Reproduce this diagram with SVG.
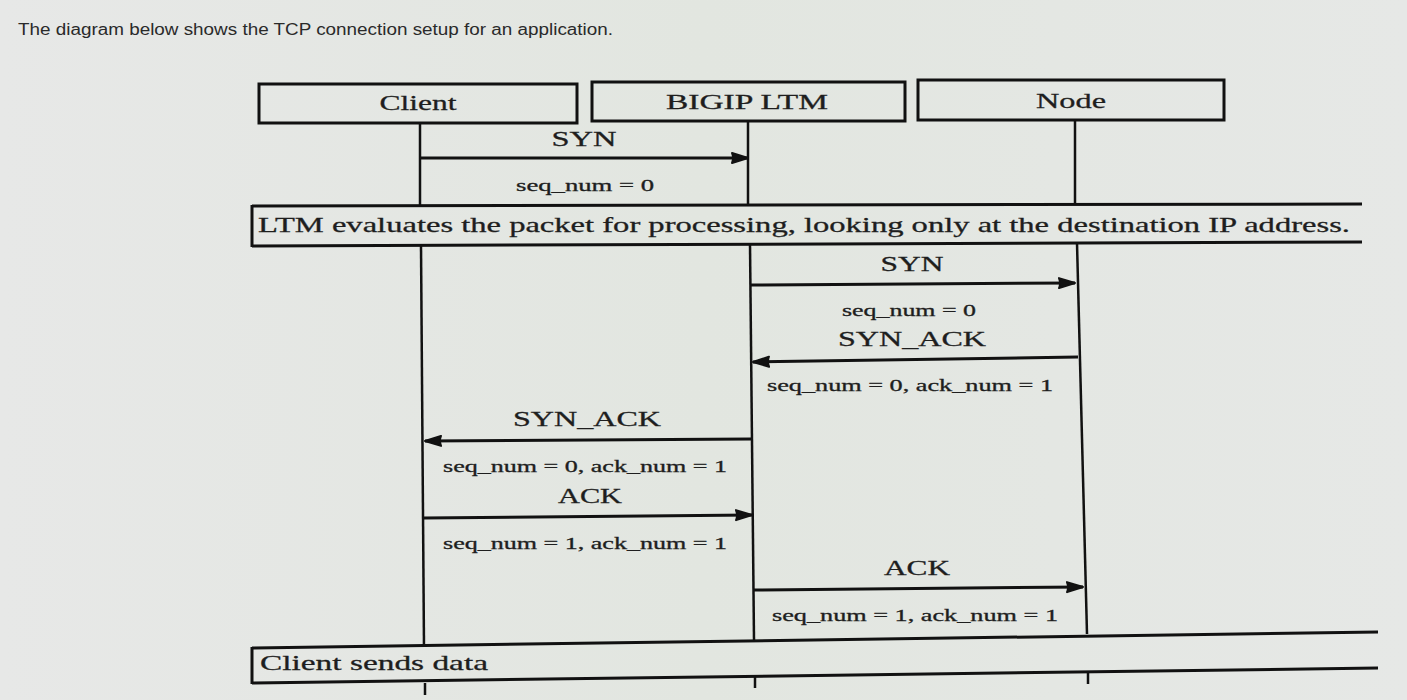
<svg xmlns="http://www.w3.org/2000/svg" width="1407" height="700" viewBox="0 0 1407 700">
<defs>
<linearGradient id="bg" x1="0" y1="0" x2="1" y2="0">
<stop offset="0" stop-color="#e7e8e7"/>
<stop offset="0.5" stop-color="#e2e6e0"/>
<stop offset="1" stop-color="#e6e8e6"/>
</linearGradient>
<marker id="ah" viewBox="0 0 18 14" refX="17" refY="7" markerWidth="18" markerHeight="14" markerUnits="userSpaceOnUse" orient="auto">
<path d="M1,2 Q3,7 1,12 L17,7 Z" fill="#111" stroke="#111" stroke-width="2" stroke-linejoin="round"/>
</marker>
<style>
.hdr{fill:none;stroke:#111;stroke-width:3}
.life{stroke:#111;stroke-width:2.5;fill:none}
.msg{stroke:#111;stroke-width:3;fill:none;marker-end:url(#ah)}
.band{stroke:#111;stroke-width:3;fill:none}
.t{font-family:"Liberation Serif","DejaVu Serif",serif;fill:#1e1e1e;stroke:#1e1e1e;stroke-width:0.3}
.big{font-size:22px}
.sm{font-size:16px}
.c{text-anchor:middle}
</style>
</defs>
<rect width="1407" height="700" fill="url(#bg)"/>
<text x="18" y="35" font-family="Liberation Sans, Arial, sans-serif" font-size="16" fill="#2a2a2a" textLength="595" lengthAdjust="spacingAndGlyphs">The diagram below shows the TCP connection setup for an application.</text>

<g id="client">
<rect class="hdr" x="259" y="84" width="318" height="39"/>
<text class="t big c" x="418" y="110" textLength="77" lengthAdjust="spacingAndGlyphs">Client</text>
</g>
<g id="bigip">
<rect class="hdr" x="592" y="82" width="313" height="39"/>
<text class="t big c" x="747" y="109" textLength="162" lengthAdjust="spacingAndGlyphs">BIGIP LTM</text>
</g>
<g id="node">
<rect class="hdr" x="918" y="80" width="306" height="40"/>
<text class="t big c" x="1071" y="108" textLength="70" lengthAdjust="spacingAndGlyphs">Node</text>
</g>

<g id="lifelines">
<line class="life" x1="420" y1="123" x2="420" y2="206"/>
<line class="life" x1="421" y1="246" x2="424" y2="647"/>
<line class="life" x1="425" y1="683" x2="425" y2="695"/>
<line class="life" x1="748" y1="121" x2="748" y2="205"/>
<line class="life" x1="750" y1="244" x2="754" y2="640"/>
<line class="life" x1="755" y1="676" x2="755" y2="688"/>
<line class="life" x1="1075" y1="120" x2="1075" y2="204"/>
<line class="life" x1="1077" y1="243" x2="1087" y2="634"/>
<line class="life" x1="1088" y1="672" x2="1088" y2="684"/>
</g>

<g id="banner1">
<line class="band" x1="252" y1="206" x2="1362" y2="204"/>
<line class="band" x1="252" y1="246" x2="1362" y2="242"/>
<line class="band" x1="252" y1="205" x2="252" y2="247"/>
<text class="t big" x="258" y="232" textLength="1092" lengthAdjust="spacingAndGlyphs">LTM evaluates the packet for processing, looking only at the destination IP address.</text>
</g>

<g id="banner2">
<line class="band" x1="252" y1="648" x2="1378" y2="632"/>
<line class="band" x1="252" y1="683" x2="1378" y2="668"/>
<line class="band" x1="252" y1="647" x2="252" y2="684"/>
<text class="t big" x="260" y="670" textLength="228" lengthAdjust="spacingAndGlyphs">Client sends data</text>
</g>

<g id="connectors">
<line class="msg" x1="420" y1="158" x2="748" y2="158"/>
<line class="msg" x1="751" y1="285" x2="1075" y2="283"/>
<line class="msg" x1="1078" y1="357" x2="753" y2="362"/>
<line class="msg" x1="751" y1="439" x2="425" y2="441"/>
<line class="msg" x1="424" y1="518" x2="752" y2="515"/>
<line class="msg" x1="754" y1="590" x2="1083" y2="587"/>
</g>

<g id="labels">
<text class="t big c" x="584" y="146" textLength="65" lengthAdjust="spacingAndGlyphs">SYN</text>
<text class="t sm c" x="585" y="191" textLength="138" lengthAdjust="spacingAndGlyphs">seq_num = 0</text>
<text class="t big c" x="912" y="271" textLength="63" lengthAdjust="spacingAndGlyphs">SYN</text>
<text class="t sm c" x="909" y="316" textLength="134" lengthAdjust="spacingAndGlyphs">seq_num = 0</text>
<text class="t big c" x="912" y="346" textLength="148" lengthAdjust="spacingAndGlyphs">SYN_ACK</text>
<text class="t sm c" x="910" y="391" textLength="286" lengthAdjust="spacingAndGlyphs">seq_num = 0, ack_num = 1</text>
<text class="t big c" x="587" y="426" textLength="148" lengthAdjust="spacingAndGlyphs">SYN_ACK</text>
<text class="t sm c" x="585" y="472" textLength="284" lengthAdjust="spacingAndGlyphs">seq_num = 0, ack_num = 1</text>
<text class="t big c" x="590" y="503" textLength="64" lengthAdjust="spacingAndGlyphs">ACK</text>
<text class="t sm c" x="585" y="549" textLength="284" lengthAdjust="spacingAndGlyphs">seq_num = 1, ack_num = 1</text>
<text class="t big c" x="917" y="575" textLength="66" lengthAdjust="spacingAndGlyphs">ACK</text>
<text class="t sm c" x="915" y="621" textLength="286" lengthAdjust="spacingAndGlyphs">seq_num = 1, ack_num = 1</text>
</g>
</svg>
